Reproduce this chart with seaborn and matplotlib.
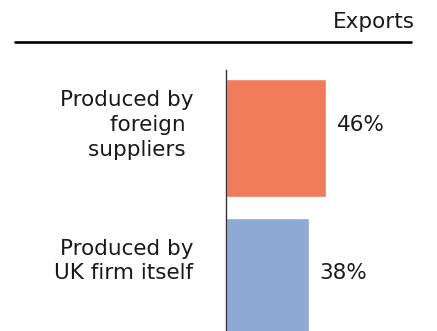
import matplotlib
matplotlib.use("Agg")
import matplotlib.pyplot as plt
from matplotlib.lines import Line2D
import seaborn as sns
import pandas as pd

# Share of value added in UK exports, by who produced it
categories = ["Produced by\nforeign \nsuppliers ", "Produced by\nUK firm itself"]
values = [46, 38]
value_labels = ["46%", "38%"]
colors = ["#F17C5B", "#8FA9D7"]
title = "Exports"

sns.set_theme(style="white")
plt.rcParams["font.family"] = ["DejaVu Sans"]

W, H = 437, 331
fig = plt.figure(figsize=(W / 100, H / 100), dpi=100)
fig.patch.set_facecolor("white")

# axes: left edge is the baseline of the bars
left_px, top_px = 226, 70
ax = fig.add_axes([left_px / W, 0, 1 - left_px / W, 1 - top_px / H])

df = pd.DataFrame({"cat": categories, "val": values})
sns.barplot(data=df, x="val", y="cat", hue="cat", palette=colors,
            width=0.85, legend=False, saturation=1, ax=ax)

ax.set_xlim(0, 97)
ax.set_ylim(1.388, -0.489)
for s in ["top", "right", "bottom"]:
    ax.spines[s].set_visible(False)
ax.spines["left"].set_color("#333333")
ax.spines["left"].set_linewidth(1.0)
ax.set_xticks([])
ax.set_yticks([])
ax.set_xlabel("")
ax.set_ylabel("")

fs = 15.5
cat_dy = [13, 16]
val_dy = [13, 4]
for i, (cat, v, lab) in enumerate(zip(categories, values, value_labels)):
    ax.annotate(cat, xy=(0, i), xytext=(-33, cat_dy[i]), textcoords="offset pixels",
                ha="right", va="center", multialignment="right",
                fontsize=fs, color="#1a1a1a", linespacing=1.3, annotation_clip=False)
    ax.annotate(lab, xy=(v, i), xytext=(11, val_dy[i]), textcoords="offset pixels",
                ha="left", va="center", fontsize=fs, color="#1a1a1a")

fig.text(415 / W, 1 - 22 / H, title, ha="right", va="center",
         fontsize=fs, color="#1a1a1a")
fig.add_artist(Line2D([15 / W, 411 / W], [1 - 42 / H, 1 - 42 / H],
                      transform=fig.transFigure, color="black", linewidth=1.9))

fig.savefig("out.png", dpi=100)
